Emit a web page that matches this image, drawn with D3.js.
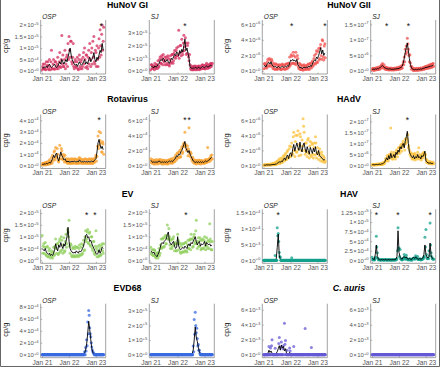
<!DOCTYPE html>
<html lang="en">
<head>
<meta charset="UTF-8">
<title>Pathogen concentrations, OSP and SJ</title>
<script src="https://d3js.org/d3.v7.min.js"></script>
<style>
  body { margin: 0; background: #fff; }
  svg { display: block; font-family: "Liberation Sans", Arial, sans-serif; }
</style>
</head>
<body>
<svg width="440" height="367"></svg>
<script>
// sampling dates (two sets, a week apart)
const dates = ["2021-01-04","2021-01-18","2021-02-01","2021-02-15","2021-03-01","2021-03-15","2021-03-29","2021-04-12","2021-04-26","2021-05-10",
  "2021-05-24","2021-06-07","2021-06-21","2021-07-05","2021-07-19","2021-08-02","2021-08-16","2021-08-30","2021-09-13","2021-09-27",
  "2021-10-11","2021-10-25","2021-11-08","2021-11-22","2021-12-06","2021-12-20","2022-01-03","2022-01-17","2022-01-31","2022-02-14",
  "2022-02-28","2022-03-14","2022-03-28","2022-04-11","2022-04-25","2022-05-09","2022-05-23","2022-06-06","2022-06-20","2022-07-04",
  "2022-07-18","2022-08-01","2022-08-15","2022-08-29","2022-09-12","2022-09-26","2022-10-10","2022-10-24","2022-11-07","2022-11-21",
  "2022-12-05","2022-12-19","2023-01-02","2023-01-16","2023-01-30","2023-02-13","2023-02-27","2023-03-13","2023-03-27","2023-04-10"];
const datesB = ["2021-01-11","2021-01-25","2021-02-08","2021-02-22","2021-03-08","2021-03-22","2021-04-05","2021-04-19","2021-05-03","2021-05-17",
  "2021-05-31","2021-06-14","2021-06-28","2021-07-12","2021-07-26","2021-08-09","2021-08-23","2021-09-06","2021-09-20","2021-10-04",
  "2021-10-18","2021-11-01","2021-11-15","2021-11-29","2021-12-13","2021-12-27","2022-01-10","2022-01-24","2022-02-07","2022-02-21",
  "2022-03-07","2022-03-21","2022-04-04","2022-04-18","2022-05-02","2022-05-16","2022-05-30","2022-06-13","2022-06-27","2022-07-11",
  "2022-07-25","2022-08-08","2022-08-22","2022-09-05","2022-09-19","2022-10-03","2022-10-17","2022-10-31","2022-11-14","2022-11-28",
  "2022-12-12","2022-12-26","2023-01-09","2023-01-23","2023-02-06","2023-02-20","2023-03-06","2023-03-20","2023-04-03","2023-04-17"];

const xTicks = ["2021-01-01", "2022-01-01", "2023-01-01"];
const xLabels = ["Jan 21", "Jan 22", "Jan 23"];

const titles = ["HuNoV GI", "HuNoV GII", "Rotavirus", "HAdV", "EV", "HAV", "EVD68", "C. auris"];
const sites = ["OSP", "SJ"];
const colors = ["#d4305f", "#f0524f", "#f8a02c", "#fbc23a", "#8fcf5c", "#13a08c", "#3a6ae0", "#6459d4"];

// HuNoV GI  (OSP x1e4, SJ x1e5)
const giOspLine = [1.5,1.2,1.8,1.5,2,1.5,2.5,3,2,1.5, 2,2.5,3,2,1.5,2,3,4,3,5, 4,3,4,5,4,6,8,10,7,5,
  4,3,2.5,3,2,3,4,3,2.5,3, 4,5,3,4,3,5,6,4,5,6, 8,5,4,6,5,7,9,8,12,9];
const giOspA = [0.5,3,1,0.8,4,2.5,1,5,0.5,9, 1,5,0.8,4,1,6,2,8,1.5,15.5, 7,2,9,3,7,12,15,6,13,3,
  12,1,5,1.5,6,0.5,7,1,5,2, 8,10,1.5,7,1,9,12,2,10,13, 15,3,8,11,2,14,18,7,20,13];
const giOspB = [2,1,3,0.5,2,4,0.5,2,4,1, 3,1,4,2,3,1,4,2,5,3, 2,5,1,6,2,5,9,13,4,6,
  2,4,2,4,1,5,2,4,1,6, 3,5,7,2,6,3,5,8,3,6, 4,9,2,5,10,6,11,16,9,19];
const giSjLine = [0.3,0.35,0.3,0.25,0.4,0.3,0.35,0.5,0.6,0.8, 0.9,0.8,1.0,0.9,0.7,0.8,0.9,0.7,0.6,0.8,
  1.0,0.9,1.1,1.3,1.2,1.5,1.4,1.2,1.6,1.4, 1.7,1.5,2.0,2.5,1.6,1.8,1.4,1.0,0.3,0.25,
  0.2,0.25,0.2,0.3,0.25,0.2,0.3,0.25,0.2,0.3, 0.35,0.3,0.25,0.35,0.4,0.3,0.35,0.4,0.45,0.4];
const giSjA = [0.1,0.5,0.2,0.4,0.6,0.2,0.5,0.8,0.4,1.1, 0.6,1.0,1.3,0.7,0.5,1.1,0.6,1.0,0.4,1.2,
  0.7,1.3,0.8,1.6,1.0,1.8,1.2,3.2,1.4,2.0, 2.5,1.3,2.8,1.9,2.2,1.4,2.2,0.8,0.5,0.1,
  0.3,0.1,0.4,0.1,0.3,0.15,0.4,0.1,0.3,0.2, 0.5,0.2,0.4,0.2,0.6,0.2,0.5,0.3,0.6,0.5];
const giSjB = [0.5,0.2,0.4,0.1,0.3,0.5,0.2,0.3,0.9,0.6, 1.2,0.5,0.8,1.1,0.9,0.5,1.2,0.5,0.9,0.6,
  1.3,0.6,1.4,1.1,1.6,1.2,1.9,1.0,2.0,1.2, 1.5,2.2,1.6,2.6,1.3,2.0,1.1,1.3,0.2,0.4,
  0.1,0.35,0.15,0.4,0.1,0.35,0.15,0.4,0.15,0.45, 0.2,0.45,0.15,0.5,0.3,0.45,0.25,0.55,0.35,0.6];

// HuNoV GII (x1e6)
const giiOspLine = [0.6,0.7,0.5,0.8,1.0,1.1,0.9,1.2,0.8,0.6, 0.5,0.6,0.5,0.4,0.6,0.5,0.4,0.5,0.6,0.5,
  0.5,0.6,0.5,0.7,0.6,1.0,1.4,1.3,1.5,1.3, 1.4,1.2,1.5,0.8,0.6,0.4,0.5,0.3,0.4,0.5,
  0.4,0.5,0.4,0.6,0.5,0.7,0.6,0.9,1.2,1.4, 1.3,1.8,1.6,2.0,2.4,3.0,2.2,2.7,2.0,2.3];
const giiOspA = [0.3,1.0,0.9,0.4,1.5,0.7,1.4,0.8,1.3,0.3, 0.8,0.2,0.9,0.2,0.8,0.3,0.7,0.2,0.9,0.3,
  0.8,0.3,0.9,0.4,1.0,1.8,0.9,1.9,1.0,2.0, 0.9,2.4,1.1,1.6,0.3,0.8,0.2,0.6,0.1,0.8,
  0.2,0.7,0.3,0.9,0.2,1.0,0.4,1.3,0.8,2.0, 0.9,2.6,1.1,2.9,1.6,3.4,1.5,3.9,1.4,3.5];
const giiOspB = [0.9,0.4,0.7,1.2,0.6,1.6,0.6,1.5,0.5,1.0, 0.3,0.9,0.3,0.7,0.3,0.8,0.2,0.8,0.3,0.7,
  0.2,0.9,0.3,1.0,0.5,0.7,2.1,1.0,2.4,1.0, 1.8,0.8,2.0,0.5,1.0,0.2,0.8,0.2,0.7,0.3,
  0.6,0.2,0.8,0.3,0.9,0.5,1.1,0.6,1.6,1.0, 2.2,1.2,2.5,1.4,3.0,2.0,4.0,1.8,3.2,1.7];
const giiSjLine = [0.5,0.6,0.5,0.7,0.6,0.8,0.7,1.0,1.2,1.5, 1.8,1.4,1.0,0.9,0.8,0.7,0.6,0.7,0.6,0.5,
  0.6,0.5,0.7,0.6,0.8,0.7,0.9,1.0,1.2,1.5, 2.5,4.0,6.0,7.5,9.0,6.5,4.0,2.0,1.0,0.6,
  0.5,0.4,0.5,0.4,0.5,0.6,0.5,0.7,0.6,0.8, 0.9,1.0,1.2,1.1,1.4,1.3,1.6,1.5,1.8,1.7];
const giiSjA = [0.3,0.9,0.2,1.0,0.4,1.2,0.5,1.4,0.9,2.0, 2.4,0.9,1.3,0.5,1.1,0.4,0.9,0.4,1.0,0.3,
  0.9,0.3,1.0,0.4,1.1,0.5,1.3,0.7,1.6,1.0, 3.0,4.5,7.0,8.0,10.5,7.0,3.0,2.6,0.6,1.0,
  0.2,0.7,0.3,0.8,0.2,0.9,0.3,1.0,0.4,1.1, 0.6,1.4,0.8,1.6,1.0,1.9,1.1,2.2,1.3,2.4];
const giiSjB = [0.8,0.3,0.8,0.4,0.9,0.5,1.0,0.6,1.6,1.1, 1.4,2.0,0.7,1.2,0.5,1.0,0.3,0.9,0.4,0.8,
  0.4,0.8,0.5,0.9,0.6,1.0,0.6,1.4,0.9,2.0, 2.0,3.0,5.5,6.0,8.8,5.0,5.2,1.5,1.4,0.3,
  0.8,0.2,0.8,0.3,0.8,0.4,0.9,0.4,0.9,0.6, 1.3,0.7,1.5,0.9,1.8,1.0,2.1,1.2,2.3,1.5];

// Rotavirus (x1e4)
const rotOspLine = [0.1,0.1,0.15,0.1,0.2,0.15,0.2,0.3,0.2,0.4, 0.6,0.9,0.7,1.0,1.1,0.6,0.4,0.8,1.2,0.9,
  0.7,0.5,0.6,0.4,0.3,0.4,0.3,0.35,0.3,0.4, 0.3,0.4,0.35,0.3,0.4,0.3,0.5,0.4,0.3,0.35,
  0.3,0.4,0.3,0.35,0.3,0.4,0.3,0.35,0.4,0.3, 0.4,0.5,0.6,1.2,2.0,2.3,1.8,1.5,1.7,1.4];
const rotOspA = [0.05,0.2,0.1,0.25,0.1,0.3,0.1,0.5,0.15,0.7, 0.9,0.6,1.3,1.6,0.8,1.0,0.3,1.8,0.9,1.3,
  0.5,0.8,0.9,0.3,0.5,0.2,0.5,0.2,0.6,0.2, 0.5,0.25,0.6,0.2,0.5,0.2,0.7,0.2,0.5,0.2,
  0.5,0.2,0.55,0.2,0.5,0.2,0.55,0.2,0.6,0.2, 0.6,0.3,0.9,0.8,2.6,3.0,2.2,2.0,1.2,1.9];
const rotOspB = [0.2,0.05,0.25,0.05,0.3,0.1,0.35,0.15,0.4,0.2, 0.4,1.2,0.5,0.7,1.5,0.4,0.6,0.6,1.5,0.6,
  1.0,0.3,0.4,0.6,0.2,0.6,0.2,0.5,0.2,0.6, 0.2,0.55,0.2,0.5,0.2,0.6,0.3,0.6,0.2,0.5,
  0.2,0.6,0.2,0.5,0.2,0.6,0.2,0.5,0.2,0.5, 0.3,0.7,0.4,1.7,1.5,1.8,2.9,1.2,2.1,1.0];
const rotSjLine = [0.7,0.5,0.4,0.5,0.4,0.5,0.4,0.5,0.6,0.5, 0.4,0.5,0.4,0.5,0.4,0.5,0.4,0.5,0.6,0.5,
  0.6,0.5,0.7,0.8,1.0,1.3,1.2,1.5,1.4,1.8, 2.0,2.4,2.8,3.2,2.3,2.0,1.7,2.0,1.5,1.2,
  0.9,0.6,0.5,0.4,0.5,0.4,0.5,0.4,0.5,0.4, 0.5,0.4,0.5,0.6,0.5,0.6,0.7,0.8,1.0,1.1];
const rotSjA = [0.9,0.3,0.6,0.2,0.7,0.3,0.6,0.2,0.8,0.3, 0.6,0.2,0.7,0.3,0.6,0.2,0.7,0.3,0.8,0.3,
  0.9,0.3,1.0,0.5,1.4,0.9,1.7,1.1,2.0,1.2, 2.5,1.8,3.0,4.4,2.8,2.2,1.3,5.0,1.2,1.6,
  0.6,0.9,0.3,0.7,0.2,0.7,0.3,0.7,0.2,0.7, 0.3,0.6,0.3,0.8,0.4,2.4,0.5,1.0,1.3,1.4];
const rotSjB = [0.5,0.8,0.3,0.7,0.2,0.8,0.3,0.7,0.4,0.8, 0.3,0.7,0.2,0.7,0.3,0.6,0.2,0.7,0.4,0.8,
  0.4,0.7,0.5,1.1,0.7,1.6,1.0,1.8,1.1,2.2, 1.6,2.8,2.5,2.6,2.0,2.6,2.2,1.6,1.8,0.9,
  1.1,0.4,0.7,0.3,0.6,0.3,0.7,0.3,0.6,0.3, 0.6,0.3,0.7,0.4,0.8,0.7,0.9,0.6,0.8,0.9];

// HAdV (x1e6)
const hadOspLine = [0.05,0.05,0.05,0.1,0.05,0.1,0.05,0.1,0.1,0.15, 0.1,0.2,0.15,0.3,0.4,0.5,0.4,0.6,0.5,0.8,
  1.0,0.7,1.2,1.4,0.9,1.5,1.7,1.2,2.2,2.8, 1.9,2.5,3.0,2.4,2.0,3.1,2.2,1.8,2.7,3.0,
  2.2,1.7,2.5,2.0,1.5,2.4,2.0,1.6,2.3,1.8, 2.5,1.6,1.4,2.0,1.3,1.2,1.0,0.9,0.7,0.8];
const hadOspA = [0.02,0.1,0.03,0.15,0.05,0.1,0.05,0.2,0.1,0.3, 0.1,0.4,0.2,0.6,0.3,0.9,0.3,1.0,0.4,1.3,
  0.6,1.6,0.8,2.0,1.0,2.6,1.2,3.0,1.5,4.4, 1.2,4.0,1.8,4.6,1.3,4.2,1.4,3.4,6.2,4.4,
  1.5,3.0,1.2,3.6,1.0,3.2,1.2,2.8,1.0,3.0, 3.8,1.0,2.4,0.8,2.2,0.6,1.8,0.5,1.2,0.4];
const hadOspB = [0.1,0.02,0.1,0.05,0.15,0.05,0.2,0.05,0.25,0.1, 0.3,0.1,0.5,0.2,0.7,0.3,0.6,0.9,0.7,1.1,
  1.4,0.8,1.8,1.1,2.2,1.2,2.5,1.6,3.8,2.0, 3.2,1.8,4.0,2.2,2.8,3.8,2.0,2.6,5.2,2.0,
  3.0,1.8,3.4,1.6,2.6,1.4,3.0,1.5,2.4,1.4, 3.0,1.6,1.8,1.3,1.6,1.0,1.4,0.7,1.0,0.6];
const hadSjLine = [0.3,0.4,0.3,0.4,0.5,0.4,0.5,0.6,0.5,0.7, 0.8,1.0,1.5,2.5,3.5,2.5,4.5,3.0,5.5,3.5,
  4.0,5.0,3.5,6.0,5.0,7.0,6.0,8.5,7.5,9.0, 10.0,8.0,11.0,13.0,15.5,10.0,6.0,5.0,4.0,3.5,
  4.5,3.0,4.0,3.5,5.0,3.5,4.0,3.0,4.5,4.0, 5.0,6.5,2.0,1.5,1.2,1.0,1.2,1.0,0.9,1.0];
const hadSjA = [0.2,0.6,0.2,0.6,0.3,0.7,0.3,0.8,0.4,1.0, 0.5,1.4,1.0,3.2,2.4,4.0,3.0,4.8,17.0,4.5,
  3.0,6.0,4.2,5.2,6.5,5.5,8.0,7.0,9.5,8.0, 11.0,9.5,12.0,10.5,11.5,8.0,7.0,6.0,5.5,5.0,
  3.5,5.5,5.0,4.5,6.0,8.0,5.0,4.5,3.5,5.5, 6.0,5.0,3.0,2.5,1.8,1.6,1.8,1.5,1.4,1.6];
const hadSjB = [0.6,0.2,0.5,0.2,0.6,0.3,0.7,0.4,0.8,0.5, 1.2,0.8,2.0,2.0,4.5,2.0,5.0,3.5,6.0,3.0,
  5.0,4.0,3.0,7.0,4.0,8.0,5.5,9.0,6.5,10.0, 9.0,7.0,10.0,12.5,14.0,9.0,5.0,4.0,3.0,3.0,
  5.0,2.5,3.5,3.0,4.0,3.0,3.5,2.5,5.0,3.5, 4.5,5.0,1.5,1.2,0.9,0.8,0.9,0.7,0.8,0.8];

// EV (x1e4)
const evOspLine = [5.0,4.5,4.0,5.0,3.5,3.0,2.5,3.0,2.0,2.5, 2.0,3.0,4.5,7.0,5.0,4.0,6.5,5.5,7.5,6.0,
  5.0,7.0,6.0,8.0,10.0,14.0,8.0,5.0,4.0,3.5, 3.0,3.5,3.0,4.0,3.5,3.0,4.0,3.5,4.0,5.0,
  6.0,8.0,10.5,11.0,9.5,10.0,8.0,8.5,7.0,6.0, 5.0,4.0,3.0,2.5,3.0,4.5,3.0,4.0,5.5,5.0];
const evOspA = [10.5,6.0,3.0,7.5,2.0,6.0,1.5,5.0,1.0,4.0, 1.0,5.5,2.5,9.0,3.0,7.0,3.0,9.0,4.0,8.5,
  3.0,9.5,4.0,11.0,7.0,12.0,17.0,3.0,6.5,1.5, 5.5,1.5,6.0,2.0,5.5,1.5,6.5,2.0,7.0,3.0,
  8.5,4.5,12.5,9.0,13.0,7.0,12.0,6.0,10.0,4.0, 8.0,2.5,12.5,1.5,6.0,2.0,5.0,2.5,7.0,3.0];
const evOspB = [3.0,7.0,5.5,2.5,5.5,1.5,4.0,2.0,3.0,1.5, 3.5,2.0,6.0,5.0,7.0,2.5,8.0,3.5,10.0,4.5,
  6.5,3.5,8.0,5.5,13.0,10.0,6.0,7.0,2.0,5.0, 2.0,5.0,1.5,5.5,2.0,5.0,2.5,5.5,2.5,6.5,
  4.0,10.0,8.0,12.0,7.5,11.5,6.5,10.0,5.0,8.0, 3.0,6.0,5.0,4.0,1.5,6.5,2.0,6.0,4.0,7.0];
const evSjLine = [4.0,3.5,3.0,3.5,2.5,2.0,1.5,2.5,3.5,5.0, 7.0,7.5,7.0,8.0,8.5,9.0,11.0,12.0,8.0,7.0,
  6.5,7.5,8.0,6.0,5.0,5.5,10.0,6.0,5.0,4.5, 5.0,5.5,5.0,6.0,5.5,5.0,6.5,7.0,6.0,7.5,
  7.0,8.0,9.0,10.0,8.0,6.5,7.5,8.0,6.0,7.0, 6.5,7.0,8.0,6.0,7.5,7.0,6.5,7.0,6.0,6.5];
const evSjA = [5.5,2.5,4.5,2.0,4.0,1.0,3.0,1.0,5.0,3.0, 9.0,5.5,9.5,6.0,10.5,7.0,15.0,9.0,10.0,5.0,
  9.0,6.0,10.0,4.0,7.0,4.0,11.0,4.5,7.0,3.0, 7.0,3.5,7.0,4.0,7.5,3.5,8.5,5.0,9.0,11.0,
  9.0,6.0,11.0,8.0,17.0,5.0,9.5,6.0,8.5,5.0, 9.0,5.0,10.0,4.5,9.5,5.0,8.0,15.5,8.0,4.5];
const evSjB = [3.0,4.5,2.0,4.5,1.5,3.0,2.0,3.5,2.0,6.5, 5.0,9.0,5.5,9.5,7.0,10.5,9.0,13.5,6.5,8.5,
  5.0,9.0,6.5,7.5,4.0,7.0,8.5,7.5,3.5,6.0, 3.5,7.0,3.5,7.5,4.0,6.5,5.0,8.5,4.5,9.0,
  5.5,10.0,7.0,12.5,7.0,8.0,6.0,9.5,4.5,8.5, 5.0,8.5,6.0,7.5,6.0,8.5,5.0,9.0,4.5,8.0];

// HAV (OSP x1e3, SJ x1e4)
const havOspLine = [0,0,0,0,0,0,0,0,0,0, 0,0,0.3,4,8.3,1.5,0.3,0,0,0, 0,0,0,0,0,0,0,0,0,0,
  0,0,0,0,0,0,0,0,0,0, 0,0,0,0,0,0,0,0,0,0, 0,0,0,0,0,0,0,0,0,0];
const havOspA = [0,0,0,0,0,0,0,0,0,0, 0,1.5,0,10.3,8.5,2.5,1.0,0,0,0, 0,0,0,0,0,0,0,0.8,0,0,
  0,0,0,0,0,0,0,0,0,0, 0,0,0,0,0,0,0,0,0,0, 0,0,0,0,0,0,0,0,0,0];
const havOspB = [0,0,0,0,0,0,0,0,0,0, 0,0,0,7.8,6.0,1.2,0,0,0,0, 0,0,0,0,0,0,0,0,0,0,
  0,0,0,0,0,0,0,0,0,0, 0,0,0,0,0,0,0,0,0,0, 0,0,0,0,0,0,0,0,0,0];
const havSjLine = [0.5,0.3,0.2,1.5,4.0,1.0,0.3,0.2,0.1,0.2, 0.1,0.2,0.1,0.2,0.1,0.1,0.2,0.1,0.2,0.1,
  0.2,0.1,0.2,0.3,1.0,7.7,2.0,0.8,0.4,0.3, 0.8,1.0,0.6,0.9,0.4,0.3,0.5,0.3,0.2,0.6,
  0.8,0.5,0.9,0.6,0.3,0.3,0.5,0.3,0.4,0.6, 1.5,4.0,1.5,0.8,0.6,1.0,4.5,1.2,0.6,0.4];
const havSjA = [0.8,0.1,0.2,0.5,6.3,2.0,0.1,0.2,0.1,0.1, 0.2,0.1,0.1,0.2,0.1,0.1,0.1,0.2,0.1,0.1,
  0.1,0.2,0.1,0.1,0.5,8.5,3.2,2.8,0.3,0.1, 0.5,1.5,0.3,1.3,0.2,0.1,0.3,0.1,0.1,0.4,
  0.5,0.3,1.2,0.4,1.0,0.2,0.3,0.1,0.2,0.4, 0.8,6.0,8.0,0.5,0.4,2.5,9.7,2.0,0.4,0.3];
const havSjB = [0.2,0.3,0.1,0.8,3.5,0.6,0.2,0.1,0.1,0.2, 0.1,0.1,0.2,0.1,0.1,0.2,0.1,0.1,0.1,0.2,
  0.1,0.1,0.2,0.2,2.5,3.0,1.0,0.5,0.2,0.2, 0.6,0.8,0.4,0.6,0.3,0.2,0.4,0.2,0.1,0.5,
  0.6,0.4,0.7,0.5,0.2,0.2,0.4,0.2,0.3,0.5, 1.0,3.5,1.5,0.6,0.5,1.2,4.0,1.0,0.5,0.3];

// EVD68 (OSP x1e4, SJ x1e5)
const evdOspLine = [0,0,0,0,0,0,0,0,0,0, 0,0,0,0,0,0,0,0,0,0, 0,0,0,0,0,0,0,0,0,0,
  0,0,0,0,0,0,0,0,0,0, 0.1,0.3,0.8,1.8,3.5,5.6,4.2,2.5,1.0,0.4, 0.15,0,0,0,0,0,0,0,0,0];
const evdOspA = [0,0,0,0,0,0,0,0,0,0, 0,0,0,0,0,0,0,0,0,0, 0,0,0,0,0,0,0,0,0,0,
  0,0,0,0,0,0,0,0,0,0, 0,0.5,1.2,2.5,5.5,7.4,4.5,3.0,1.3,0.5, 0.2,0,0,0,0,0,0,0,0,0];
const evdOspB = [0,0,0,0,0,0,0,0,0,0, 0,0,0,0,0,0,0,0,0,0, 0,0,0,0,0,0,0,0,0,0,
  0,0,0,0,0,0,0,0,0,0, 0,0,0.6,1.5,3.5,6.6,3.5,2.0,0.8,0.3, 0,0,0,0,0,0,0,0,0,0];
const evdSjLine = [0,0,0,0,0,0,0,0,0,0, 0,0,0,0,0,0,0,0,0,0, 0,0,0,0,0,0,0,0,0,0,
  0,0,0,0,0,0,0,0,0,0, 0.05,0.3,1.0,1.9,1.2,0.9,0.5,0.2,0.05,0, 0,0,0,0,0,0,0,0,0,0];
const evdSjA = [0,0,0,0,0,0,0,0,0,0, 0,0,0,0,0,0,0,0,0,0, 0,0,0,0,0,0,0,0,0,0,
  0,0,0,0,0,0,0,0,0,0, 0,0.6,2.4,2.9,1.5,1.1,0.7,0.3,0,0, 0,0,0,0,0,0,0,0,0,0];
const evdSjB = [0,0,0,0,0,0,0,0,0,0, 0,0,0,0,0,0,0,0,0,0, 0,0,0,0,0,0,0,0,0,0,
  0,0,0,0,0,0,0,0,0,0, 0,0.2,1.4,2.0,1.8,0.6,0.3,0.1,0,0, 0,0,0,0,0,0,0,0,0,0];

// C. auris (x1e3)
const caOspLine = [0,0,0,0,0.2,0.6,0.3,0.5,0.2,0, 0.1,0,0.2,0.4,0.8,1.2,0.6,1.3,0.9,1.1,
  0.5,0.8,0.2,0,0.1,0.3,0,0,0,0, 0,0,0,0,0,0,0,0,0,0, 0.1,0,0,0,0,0,0,0,0,0, 0,0,0,0,0,0,0,0,0,0];
const caOspA = [0,0,0,0,0,1.1,0,0,2.0,0, 0,0.85,0,0,0,2.3,0,1.7,0,1.2, 4.2,1.9,0,0,0,0.9,0,0,0,1.1,
  0,0,0,0,0,0,0,0,0,0, 3.5,0,0,0,0,0,0.95,0,0,0, 0,0,0,0,0,0,0,0,0,0];
const caOspB = [0,0,0,0,0,0,0.9,1.2,0,0, 0,0,0,0,1.5,0,1.0,0,0.8,0, 1.4,0,0.6,0,0,0.5,0,0,0,0,
  0,0,0,0,0,0,0,0,0,0, 0,0,0,0,0,0,0,0,0,0, 0,0,0,0,0,0,0,0,0,0];
const caSjAll = [0,0,0,0,0,0,0,0,0,0, 0,0,0,0,0,0,0,0,0,0, 0,0,0,0,0,0,0,0,0,0,
  0,0,0,0,0,0,0,0,0,0, 0,0,0,0,0,0,0,0,0,0, 0,0,0,0,0,0,0,0,0,0];

// table: unit, y ticks, axis top value, series, starred sampling indices
const panels = [
  { v: 0, unit: 1e4, ticks: [0, 5e4, 1e5, 1.5e5, 2e5], yMax: 2.22e5, line: giOspLine, a: giOspA, b: giOspB, stars: [57] },
  { v: 0, unit: 1e5, ticks: [0, 1e5, 2e5, 3e5], yMax: 4.0e5, line: giSjLine, a: giSjA, b: giSjB, stars: [33] },
  { v: 1, unit: 1e6, ticks: [0, 2e6, 4e6, 6e6], yMax: 6.55e6, line: giiOspLine, a: giiOspA, b: giiOspB, stars: [27, 59] },
  { v: 1, unit: 1e6, ticks: [0, 5e6, 1e7, 1.5e7], yMax: 1.64e7, line: giiSjLine, a: giiSjA, b: giiSjB, stars: [14, 35] },
  { v: 2, unit: 1e4, ticks: [0, 1e4, 2e4, 3e4, 4e4], yMax: 4.51e4, line: rotOspLine, a: rotOspA, b: rotOspB, stars: [55] },
  { v: 2, unit: 1e4, ticks: [0, 2e4, 4e4, 6e4], yMax: 6.77e4, line: rotSjLine, a: rotSjA, b: rotSjB, stars: [33, 37] },
  { v: 3, unit: 1e6, ticks: [0, 2e6, 4e6, 6e6], yMax: 6.77e6, line: hadOspLine, a: hadOspA, b: hadOspB, stars: [] },
  { v: 3, unit: 1e6, ticks: [0, 5e6, 1e7, 1.5e7, 2e7], yMax: 2.31e7, line: hadSjLine, a: hadSjA, b: hadSjB, stars: [34] },
  { v: 4, unit: 1e4, ticks: [0, 5e4, 1e5, 1.5e5, 2e5], yMax: 2.16e5, line: evOspLine, a: evOspA, b: evOspB, stars: [43, 51] },
  { v: 4, unit: 1e4, ticks: [0, 5e4, 1e5, 1.5e5, 2e5], yMax: 2.16e5, line: evSjLine, a: evSjA, b: evSjB, stars: [34] },
  { v: 5, unit: 1e3, ticks: [0, 5e3, 1e4, 1.5e4], yMax: 1.62e4, line: havOspLine, a: havOspA, b: havOspB, stars: [14] },
  { v: 5, unit: 1e4, ticks: [0, 2.5e4, 5e4, 7.5e4, 1e5, 1.25e5], yMax: 1.33e5, line: havSjLine, a: havSjA, b: havSjB, stars: [4, 25, 56] },
  { v: 6, unit: 1e4, ticks: [0, 2e4, 4e4, 6e4, 8e4], yMax: 8.55e4, line: evdOspLine, a: evdOspA, b: evdOspB, stars: [] },
  { v: 6, unit: 1e5, ticks: [0, 1e5, 2e5, 3e5], yMax: 3.48e5, line: evdSjLine, a: evdSjA, b: evdSjB, stars: [] },
  { v: 7, unit: 1e3, ticks: [0, 2e3, 4e3, 6e3], yMax: 6.8e3, line: caOspLine, a: caOspA, b: caOspB, stars: [] },
  { v: 7, unit: 1e3, ticks: [0, 2e3, 4e3, 6e3], yMax: 6.8e3, line: caSjAll, a: caSjAll, b: caSjAll, stars: [] }
];

const svg = d3.select("svg");
const parse = d3.timeParse("%Y-%m-%d");
const tA = dates.map(parse), tB = datesB.map(parse);

const colX = [40.7, 149.3, 262.3, 370.7];
const rowY = [0, 94.5, 189.3, 283.7];
const W = 65, TOP = 20, ZERO = 71, BASE = 74;
const axisColor = "#8a8a8a", labelColor = "#555";

const x = d3.scaleTime()
  .domain([parse("2020-12-15"), parse("2023-05-14")])
  .range([0, W]);

panels.forEach((p, k) => {
  const row = Math.floor(k / 4), col = k % 4;
  const g = svg.append("g").attr("transform", `translate(${colX[col]},${rowY[row]})`);
  const y = d3.scaleLinear().domain([0, p.yMax]).range([ZERO, TOP]);
  const color = colors[p.v];

  // frame: left, bottom, right
  g.append("path")
    .attr("d", `M0,${TOP}V${BASE}H${W}V${TOP}`)
    .attr("fill", "none")
    .attr("stroke", axisColor)
    .attr("stroke-width", 0.8);

  const gy = g.append("g")
    .call(d3.axisLeft(y).tickValues(p.ticks).tickSizeInner(-1.5).tickSizeOuter(0).tickPadding(2));
  gy.attr("font-family", null).attr("font-size", null);
  gy.select(".domain").remove();
  gy.selectAll(".tick line").attr("stroke", axisColor).attr("stroke-width", 0.6);
  gy.selectAll(".tick text")
    .attr("fill", labelColor)
    .attr("font-size", 6)
    .each(function(d) {
      const [m, e] = d.toExponential().split("e");
      const t = d3.select(this).text(null);
      t.append("tspan").text(`${m}\u200a×\u200a10`);
      t.append("tspan").attr("dy", -2.4).attr("font-size", 4.2).text(e);
    });

  const gx = g.append("g")
    .attr("transform", `translate(0,${BASE})`)
    .call(d3.axisBottom(x).tickValues(xTicks.map(parse))
      .tickFormat((d, i) => xLabels[i])
      .tickSizeInner(-1.5).tickSizeOuter(0).tickPadding(2.2));
  gx.attr("font-family", null).attr("font-size", null);
  gx.select(".domain").remove();
  gx.selectAll(".tick line").attr("stroke", axisColor).attr("stroke-width", 0.6);
  gx.selectAll(".tick text").attr("fill", labelColor).attr("font-size", 6.6);

  const pts = p.a.map((d, i) => ({ t: tA[i], v: d * p.unit }))
    .concat(p.b.map((d, i) => ({ t: tB[i], v: d * p.unit })));

  g.selectAll(".pt")
    .data(pts.filter(d => d.v > 0))
    .join("circle")
    .attr("class", "pt")
    .attr("cx", d => x(d.t))
    .attr("cy", d => y(d.v))
    .attr("r", 1.5)
    .attr("fill", color)
    .attr("fill-opacity", 0.75);

  const line = d3.line()
    .x((d, i) => x(tA[i]))
    .y(d => y(d * p.unit));
  g.append("path")
    .datum(p.line)
    .attr("d", line)
    .attr("fill", "none")
    .attr("stroke", "#000")
    .attr("stroke-width", 0.9)
    .attr("stroke-linejoin", "round");

  // samples below detection sit on the zero line, over the trend
  g.selectAll(".zero")
    .data(pts.filter(d => d.v === 0))
    .join("circle")
    .attr("class", "zero")
    .attr("cx", d => x(d.t))
    .attr("cy", d => y(d.v))
    .attr("r", 1.6)
    .attr("fill", color)
    .attr("fill-opacity", 0.8);

  g.selectAll(".star")
    .data(p.stars)
    .join("text")
    .attr("class", "star")
    .attr("x", i => x(tA[i]))
    .attr("y", 28.5)
    .attr("text-anchor", "middle")
    .attr("font-size", 8.5)
    .attr("fill", "#111")
    .text("*");

  g.append("text")
    .attr("x", 1.5)
    .attr("y", 19)
    .attr("font-size", 6.6)
    .attr("font-style", "italic")
    .attr("fill", "#222")
    .text(sites[col % 2]);

  if (col % 2 === 0) {
    g.append("text")
      .attr("transform", `translate(-33,46) rotate(-90)`)
      .attr("text-anchor", "middle")
      .attr("font-size", 7.5)
      .attr("fill", "#222")
      .text("cp/g");
  }
});

// pathogen titles over each pair of panels
titles.forEach((t, j) => {
  const row = Math.floor(j / 2), c0 = (j % 2) * 2;
  svg.append("text")
    .attr("x", (colX[c0] + colX[c0 + 1] + W) / 2)
    .attr("y", rowY[row] + 7.5)
    .attr("text-anchor", "middle")
    .attr("font-size", 8.8)
    .attr("font-weight", "bold")
    .attr("font-style", t === "C. auris" ? "italic" : null)
    .attr("fill", "#000")
    .text(t);
});

// image frame
svg.append("path")
  .attr("d", "M0.5,0V366.5H439.5V0")
  .attr("fill", "none")
  .attr("stroke", "#666")
  .attr("stroke-width", 1);
</script>
</body>
</html>
